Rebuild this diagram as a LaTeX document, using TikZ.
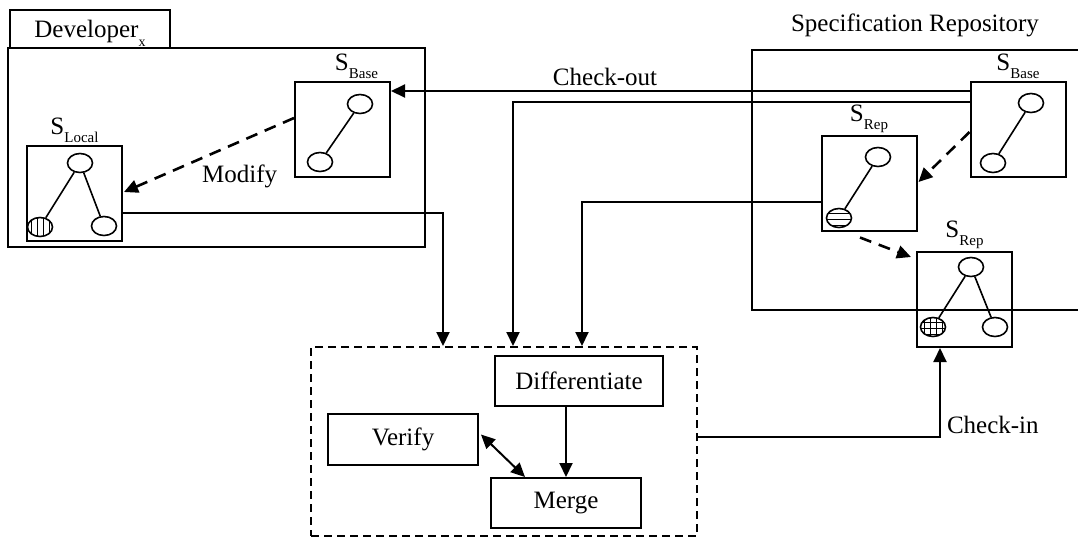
\documentclass[tikz,border=0pt]{standalone}
\usepackage{fontspec}
\setmainfont{Liberation Serif}
\usetikzlibrary{arrows.meta, calc, positioning, shapes.geometric, patterns}

% S with a lowered, smaller subscript
\newcommand{\subname}[1]{S\raisebox{-4pt}{\fontsize{7.5}{8}\selectfont #1}}

\begin{document}
\begin{tikzpicture}[
    x=0.5pt, y=-0.5pt,
    font=\fontsize{12.5}{15}\selectfont,
    line width=1pt,
    specbox/.style={rectangle, draw, line width=1pt,
                    minimum width=47.5pt, minimum height=47.5pt},
    specname/.style={inner sep=0.5pt, above=0pt of #1},
    vtx/.style={ellipse, draw, line width=0.8pt, minimum width=12.5pt,
                minimum height=9.5pt, inner sep=0pt},
    graphline/.style={line width=0.8pt},
    procbox/.style={rectangle, draw, line width=1pt,
                    minimum width=75pt, minimum height=25pt},
    arr/.style={-{Triangle[length=7pt, width=6.5pt]}, line width=1pt},
    dbl/.style={{Triangle[length=7pt, width=6.5pt]}-{Triangle[length=7pt, width=6.5pt]}, line width=1pt},
    darr/.style={arr, dash pattern=on 6pt off 4pt, line width=1.3pt},
    lbl/.style={inner sep=1pt}
]
\useasboundingbox (0,0) rectangle (1078,538);
\clip (0,0) rectangle (1078,538);

% Developer workspace
\node[draw, minimum width=208.5pt, minimum height=99.5pt] (devbox) at (216.5,147.5) {};
\node[draw, minimum width=80pt, minimum height=19pt, text depth=0pt] (devtab) at (90,29)
  {Developer\raisebox{-4.5pt}{\fontsize{7}{8}\selectfont x}};

\node[specbox] (dbase) at (342.5,129.5) {};
\node[specname=dbase, xshift=7pt] (dbase-lbl) {\subname{Base}};
\node[vtx] (dbase-a) at (360,104) {};
\node[vtx] (dbase-b) at (320,162) {};
\draw[graphline] (dbase-a) -- (dbase-b);

\node[specbox] (slocal) at (74.5,193) {};
\node[specname=slocal] (slocal-lbl) {\subname{Local}};
\node[vtx] (slocal-a) at (80,163) {};
\node[vtx, pattern=vertical lines] (slocal-b) at (40,227) {};
\node[vtx] (slocal-c) at (104,226) {};
\draw[graphline] (slocal-a) -- (slocal-b);
\draw[graphline] (slocal-a) -- (slocal-c);

% Repository (right side runs off the page)
\node[draw, minimum width=174pt, minimum height=130pt] (repobox) at (926,180) {};
\node (repo-lbl) at (915,25) {Specification Repository};

\node[specbox] (rbase) at (1018,129.5) {};
\node[specname=rbase] (rbase-lbl) {\subname{Base}};
\node[vtx] (rbase-a) at (1031,103) {};
\node[vtx] (rbase-b) at (993,163) {};
\draw[graphline] (rbase-a) -- (rbase-b);

\node[specbox] (srep1) at (869,183) {};
\node[specname=srep1] (srep1-lbl) {\subname{Rep}};
\node[vtx] (srep1-a) at (878,157) {};
\node[vtx, pattern=horizontal lines] (srep1-b) at (839,218) {};
\draw[graphline] (srep1-a) -- (srep1-b);

\node[specbox] (srep2) at (964.5,299.5) {};
\node[specname=srep2] (srep2-lbl) {\subname{Rep}};
\node[vtx] (srep2-a) at (971,267) {};
\node[vtx, pattern=grid] (srep2-b) at (933,327) {};
\node[vtx] (srep2-c) at (995,327) {};
\draw[graphline] (srep2-a) -- (srep2-b);
\draw[graphline] (srep2-a) -- (srep2-c);

% Merge area
\node[draw, dash pattern=on 4pt off 2.5pt, minimum width=193pt, minimum height=94.5pt] (mbox) at (504,441.5) {};
\node[procbox, minimum width=84pt] (diff) at (579,381) {Differentiate};
\node[procbox, minimum height=25.5pt] (verify) at (403,439.5) {Verify};
\node[procbox] (merge) at (566,503) {Merge};

% entry points on top of the merge area
\coordinate (inA) at ($(mbox.north west)+(133,0)$);
\coordinate (inB) at ($(mbox.north west)+(203,0)$);
\coordinate (inC) at ($(mbox.north west)+(272,0)$);

% check-out and base copy into merge
\coordinate (outA) at ($(rbase.north west)+(0,10)$);
\coordinate (outB) at ($(rbase.north west)+(0,21)$);
\draw[arr] (outA) -- (outA -| dbase.east) node[lbl, pos=0.63, yshift=7pt] {Check-out};
\draw[arr] (outB) -| (inB);

% local and repository versions into merge
\coordinate (localOut) at ($(slocal.east)+(0,20)$);
\draw[arr] (localOut) -| (inA);
\coordinate (repOut) at ($(srep1.west)+(0,19)$);
\draw[arr] (repOut) -| (inC);

% modifications
\draw[darr] ($(dbase.west)+(0,-11.5)$) -- ($(slocal.east)+(1,-1)$)
  node[lbl, pos=0.32, yshift=-17.5pt] {Modify};
\draw[darr] ($(rbase.west)+(0,2.5)$) -- ($(srep1.east)+(1,-1)$);
\draw[darr] ($(srep1.south)+(-9,6)$) -- ($(srep2.north west)+(-5,6)$);

% inside the merge area
\draw[arr] (diff.south -| merge.north) -- (merge.north);
\draw[dbl] ($(verify.east)+(2,-5)$) -- ($(merge.north west)+(35,0)$);

% check-in
\coordinate (ckOut) at ($(mbox.east)+(0,-4.5)$);
\coordinate (ckIn) at ($(srep2.south west)+(24,0)$);
\draw[arr] (ckOut) -| (ckIn) node[lbl, pos=0.567, anchor=west, xshift=2pt] {Check-in};
\end{tikzpicture}
\end{document}
